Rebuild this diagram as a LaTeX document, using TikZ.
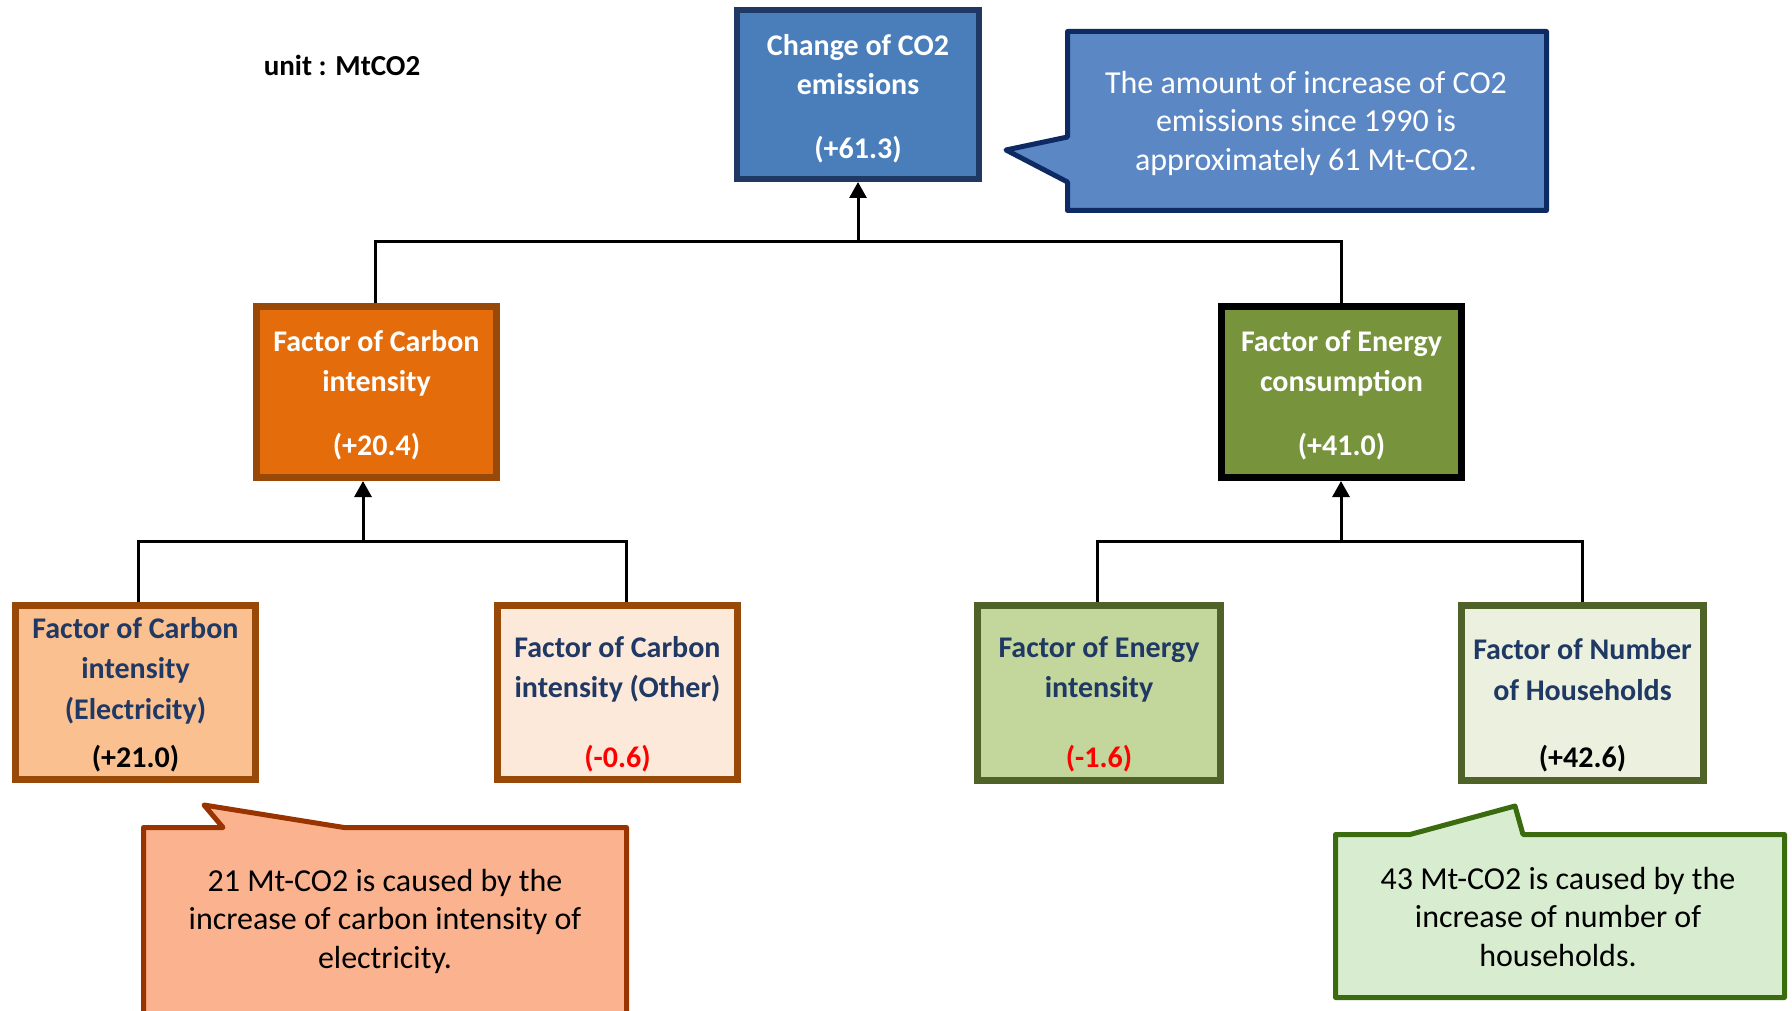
\documentclass[tikz,border=0pt]{standalone}
\usepackage{fontspec}
\setmainfont{Carlito}
\usetikzlibrary{arrows.meta}
\definecolor{navy}{HTML}{1F3864}
\definecolor{topfill}{HTML}{4A7EBB}
\definecolor{topdraw}{HTML}{1F3864}
\definecolor{cofill}{HTML}{5B87C5}
\definecolor{codraw}{HTML}{0E2A62}
\definecolor{carbfill}{HTML}{E46C0A}
\definecolor{brown}{HTML}{984807}
\definecolor{enerfill}{HTML}{77933C}
\definecolor{elecfill}{HTML}{FAC090}
\definecolor{othfill}{HTML}{FDE9D9}
\definecolor{eintfill}{HTML}{C3D69B}
\definecolor{gdraw}{HTML}{4F6228}
\definecolor{hhfill}{HTML}{EBF1DE}
\definecolor{orfill}{HTML}{FBB28E}
\definecolor{ordraw}{HTML}{993300}
\definecolor{grfill}{HTML}{D8EDD0}
\definecolor{grdraw}{HTML}{3A6B0E}
\definecolor{redval}{HTML}{FF0000}
\begin{document}
\begin{tikzpicture}[x=1pt,y=-1pt,
  box/.style={draw, rectangle, inner sep=0pt},
  ttl/.style={align=center, inner sep=0pt, font=\fontsize{30}{40.5}\selectfont\bfseries},
  val/.style={inner sep=0pt, font=\fontsize{30}{40}\selectfont\bfseries},
  cotext/.style={align=center, inner sep=0pt, font=\fontsize{32}{38.5}\selectfont},
  conn/.style={draw=black, line width=3pt},
  arr/.style={-{Triangle[width=17pt,length=16pt]}},
  callout/.style={line width=5pt, line join=round}]
\useasboundingbox (0,0) rectangle (1792,1011);
\clip (0,0) rectangle (1792,1011);
\fill[white] (0,0) rectangle (1792,1011);

% unit label
\node[val, font=\fontsize{29}{40}\selectfont\bfseries] (unit) at (342,65) {unit : MtCO2};

% top box
\node[box, fill=topfill, draw=topdraw, line width=6pt, minimum width=242pt, minimum height=169pt] (top) at (858,94.5) {};
\node[ttl, text=white, font=\fontsize{30}{39}\selectfont\bfseries] (topT) at (858,65) {Change of CO2\\emissions};
\node[val, text=white] (topV) at (858,150) {(+61.3)};

% top callout
\draw[callout, fill=cofill, draw=codraw] (1067.5,31.5) -- (1546.5,31.5) -- (1546.5,210.5) -- (1067.5,210.5) -- (1067.5,182) -- (1006,150) -- (1067.5,137) -- cycle;
\node[cotext, text=white] (topC) at (1306,123) {The amount of increase of CO2\\emissions since 1990 is\\approximately 61 Mt-CO2.};

% level 2
\node[box, fill=carbfill, draw=brown, line width=7pt, minimum width=240pt, minimum height=171pt] (carb) at (376.5,392) {};
\node[ttl, text=white] (carbT) at (376.5,363.5) {Factor of Carbon\\intensity};
\node[val, text=white] (carbV) at (376.5,447) {(+20.4)};

\node[box, fill=enerfill, draw=black, line width=7pt, minimum width=240pt, minimum height=171pt] (ener) at (1341.5,392) {};
\node[ttl, text=white] (enerT) at (1341.5,363.5) {Factor of Energy\\consumption};
\node[val, text=white] (enerV) at (1341.5,447) {(+41.0)};

% level 3
\node[box, fill=elecfill, draw=brown, line width=7pt, minimum width=240pt, minimum height=174pt] (elec) at (135.5,692.5) {};
\node[ttl, text=navy] (elecT) at (135.5,670.5) {Factor of Carbon\\intensity\\(Electricity)};
\node[val, text=black] (elecV) at (135.5,759) {(+21.0)};

\node[box, fill=othfill, draw=brown, line width=7pt, minimum width=240pt, minimum height=174pt] (other) at (617.5,692.5) {};
\node[ttl, text=navy] (otherT) at (617.5,669.5) {Factor of Carbon\\intensity (Other)};
\node[val, text=redval] (otherV) at (617.5,759) {(-0.6)};

\node[box, fill=eintfill, draw=gdraw, line width=7pt, minimum width=243pt, minimum height=175pt] (eint) at (1099,693) {};
\node[ttl, text=navy] (eintT) at (1099,669.5) {Factor of Energy\\intensity};
\node[val, text=redval] (eintV) at (1099,759) {(-1.6)};

\node[box, fill=hhfill, draw=gdraw, line width=7pt, minimum width=242pt, minimum height=175pt] (hh) at (1582.5,693) {};
\node[ttl, text=navy] (hhT) at (1582.5,669.5) {Factor of Number\\of Households};
\node[val, text=black] (hhV) at (1582.5,759) {(+42.6)};

% connectors
\coordinate (j1) at (858,242);
\draw[conn] ([xshift=-1.5pt]carb.north) |- (j1) -| (ener.north);
\draw[conn, arr] (j1) -- (top.south);

\coordinate (j2) at (363,541);
\draw[conn] ([xshift=2.5pt]elec.north) |- (j2) -| ([xshift=8.5pt]other.north);
\draw[conn, arr] (j2) -- (j2 |- carb.south);

\coordinate (j3) at (1341,541);
\draw[conn] ([xshift=-2pt]eint.north) |- (j3) -| (hh.north);
\draw[conn, arr] (j3) -- (j3 |- ener.south);

% orange callout
\draw[callout, fill=orfill, draw=ordraw] (143.5,1040) -- (143.5,827.5) -- (223,827.5) -- (204,805) -- (344,827.5) -- (626.5,827.5) -- (626.5,1040);
\node[cotext, text=black] (orC) at (385,921) {21 Mt-CO2 is caused by the\\increase of carbon intensity of\\electricity.};

% green callout
\draw[callout, fill=grfill, draw=grdraw] (1335.5,834.5) -- (1410,834.5) -- (1515,806) -- (1523,834.5) -- (1784.5,834.5) -- (1784.5,997.5) -- (1335.5,997.5) -- cycle;
\node[cotext, text=black] (grC) at (1558,917) {43 Mt-CO2 is caused by the\\increase of number of\\households.};
\end{tikzpicture}
\end{document}
